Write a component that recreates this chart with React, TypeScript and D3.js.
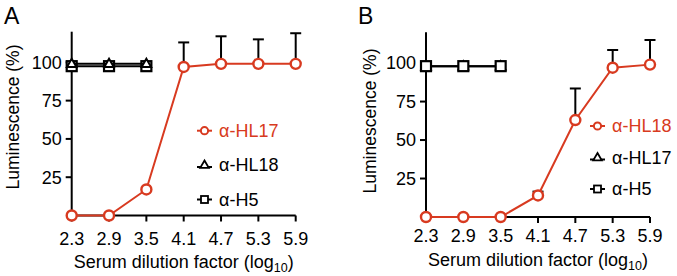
import React from "react";
import * as d3 from "d3";

const xTicks = [2.3, 2.9, 3.5, 4.1, 4.7, 5.3, 5.9];
const yTicks = [25, 50, 75, 100];

// Panel A
const aRedName = "α-HL17";
const aRed = [0, 0, 17, 97, 99, 99, 99];
const aRedErr = [0, 0, 0, 16, 18, 16, 20];
const aTriName = "α-HL18";
const aTri = [99, 99, 99];
const aSqName = "α-H5";
const aSq = [97.5, 97.5, 97.5];

// Panel B
const bRedName = "α-HL18";
const bRed = [0, 0, 0, 14, 63, 97, 99];
const bRedErr = [0, 0, 0, 2.5, 20.5, 11.5, 16];
const bTriName = "α-HL17";
const bTri = [98, 98, 98];
const bSqName = "α-H5";
const bSq = [98, 98, 98];

const RED = "#d83a20";
const FONT = "'Liberation Sans', Arial, Helvetica, sans-serif";

type PanelProps = {
  letter: string;
  ox: number;
  y0: number;
  yTop: number;
  red: number[];
  redErr: number[];
  tri: number[];
  sq: number[];
  triOnTop: boolean;
  names: [string, string, string];
  legendX: number;
  legendYs: number[];
  legendTextX: number;
  yLabelX: number;
  yLabelY: number;
  titleY: number;
  tickLabelY: number;
  letterX: number;
};

function Panel(p: PanelProps) {
  const x = d3.scaleLinear().domain([2.3, 5.9]).range([p.ox, p.ox + 224]);
  const y = d3.scaleLinear().domain([0, 120]).range([p.y0, p.yTop]);
  const line = d3
    .line<number>()
    .x((_, i) => x(xTicks[i]))
    .y((d) => y(d));
  const triPath = (cx: number, cy: number, s: number) =>
    `M${cx},${cy - s}L${cx + s * 0.95},${cy + s * 0.65}L${cx - s * 0.95},${cy + s * 0.65}Z`;

  const triMarks = (
    <g key="tri">
      <path d={line(p.tri) || ""} fill="none" stroke="#000" strokeWidth={2} />
      {p.tri.map((v, i) => (
        <path key={i} d={triPath(x(xTicks[i]), y(v), 5)} fill="#fff" stroke="#000" strokeWidth={2} />
      ))}
    </g>
  );
  const sqMarks = (
    <g key="sq">
      <path d={line(p.sq) || ""} fill="none" stroke="#000" strokeWidth={2} />
      {p.sq.map((v, i) => (
        <rect key={i} x={x(xTicks[i]) - 5} y={y(v) - 5} width={10} height={10} fill="#fff" stroke="#000" strokeWidth={2.2} />
      ))}
    </g>
  );

  const lx = p.legendX;
  return (
    <g fontFamily={FONT}>
      <text x={p.letterX} y={24} fontSize={23}>{p.letter}</text>
      <line x1={p.ox} x2={p.ox} y1={y(0)} y2={y(120)} stroke="#000" strokeWidth={2} />
      {yTicks.map((t) => (
        <g key={t}>
          <line x1={p.ox - 6} x2={p.ox} y1={y(t)} y2={y(t)} stroke="#000" strokeWidth={2} />
          <text x={p.ox - 10} y={y(t)} dy="0.35em" textAnchor="end" fontSize={18}>{t}</text>
        </g>
      ))}
      <line x1={p.ox} x2={x(5.9)} y1={y(0)} y2={y(0)} stroke="#000" strokeWidth={2} />
      {xTicks.map((t) => (
        <g key={t}>
          <line x1={x(t)} x2={x(t)} y1={y(0)} y2={y(0) + 6} stroke="#000" strokeWidth={2} />
          <text x={x(t)} y={p.tickLabelY} textAnchor="middle" fontSize={18}>{t.toFixed(1)}</text>
        </g>
      ))}
      <text
        transform={`translate(${p.yLabelX},${p.yLabelY}) rotate(-90)`}
        textAnchor="middle"
        dy="0.35em"
        fontSize={17.5}
      >
        Luminescence (%)
      </text>
      <text x={x(4.1)} y={p.titleY} textAnchor="middle" fontSize={18}>
        Serum dilution factor (log<tspan fontSize={12.5} dy={4}>10</tspan>
        <tspan dy={-4}>)</tspan>
      </text>
      {p.triOnTop ? [sqMarks, triMarks] : [triMarks, sqMarks]}
      {p.red.map((v, i) =>
        p.redErr[i] > 0 ? (
          <g key={i}>
            <line x1={x(xTicks[i])} x2={x(xTicks[i])} y1={y(v)} y2={y(v + p.redErr[i])} stroke="#000" strokeWidth={2} />
            <line x1={x(xTicks[i]) - 5.5} x2={x(xTicks[i]) + 5.5} y1={y(v + p.redErr[i])} y2={y(v + p.redErr[i])} stroke="#000" strokeWidth={2} />
          </g>
        ) : null
      )}
      <path d={line(p.red) || ""} fill="none" stroke={RED} strokeWidth={2} />
      {p.red.map((v, i) => (
        <circle key={i} cx={x(xTicks[i])} cy={y(v)} r={5} fill="#fff" stroke={RED} strokeWidth={2.4} />
      ))}
      <g>
        <line x1={lx} x2={lx + 15} y1={p.legendYs[0]} y2={p.legendYs[0]} stroke={RED} strokeWidth={2} />
        <circle cx={lx + 7.5} cy={p.legendYs[0]} r={3.6} fill="#fff" stroke={RED} strokeWidth={2} />
        <text x={p.legendTextX} y={p.legendYs[0]} dy="0.35em" fontSize={18} fill={RED}>{p.names[0]}</text>

        <line x1={lx} x2={lx + 15} y1={p.legendYs[1] + 2} y2={p.legendYs[1] + 2} stroke="#000" strokeWidth={2} />
        <path d={triPath(lx + 7.5, p.legendYs[1], 4.5)} fill="#fff" stroke="#000" strokeWidth={1.8} />
        <text x={p.legendTextX} y={p.legendYs[1]} dy="0.35em" fontSize={18}>{p.names[1]}</text>

        <line x1={lx} x2={lx + 15} y1={p.legendYs[2]} y2={p.legendYs[2]} stroke="#000" strokeWidth={2} />
        <rect x={lx + 4} y={p.legendYs[2] - 3.5} width={7} height={7} fill="#fff" stroke="#000" strokeWidth={1.8} />
        <text x={p.legendTextX} y={p.legendYs[2]} dy="0.35em" fontSize={18}>{p.names[2]}</text>
      </g>
    </g>
  );
}

export default function App() {
  return (
    <svg
      width={677}
      height={276}
      style={{ position: "absolute", left: 0, top: 0, background: "#fff" }}
    >
      <rect width={677} height={276} fill="#fff" />
      <Panel
        letter="A"
        letterX={4}
        ox={71.7}
        y0={215.5}
        yTop={31.7}
        red={aRed}
        redErr={aRedErr}
        tri={aTri}
        sq={aSq}
        triOnTop={true}
        names={[aRedName, aTriName, aSqName]}
        legendX={197}
        legendYs={[130.7, 165, 199.5]}
        legendTextX={219}
        yLabelX={13}
        yLabelY={117}
        titleY={268}
        tickLabelY={245}
      />
      <Panel
        letter="B"
        letterX={358}
        ox={426}
        y0={217}
        yTop={32.3}
        red={bRed}
        redErr={bRedErr}
        tri={bTri}
        sq={bSq}
        triOnTop={false}
        names={[bRedName, bTriName, bSqName]}
        legendX={590}
        legendYs={[126, 157.5, 189]}
        legendTextX={612}
        yLabelX={370}
        yLabelY={121}
        titleY={266}
        tickLabelY={242}
      />
    </svg>
  );
}
